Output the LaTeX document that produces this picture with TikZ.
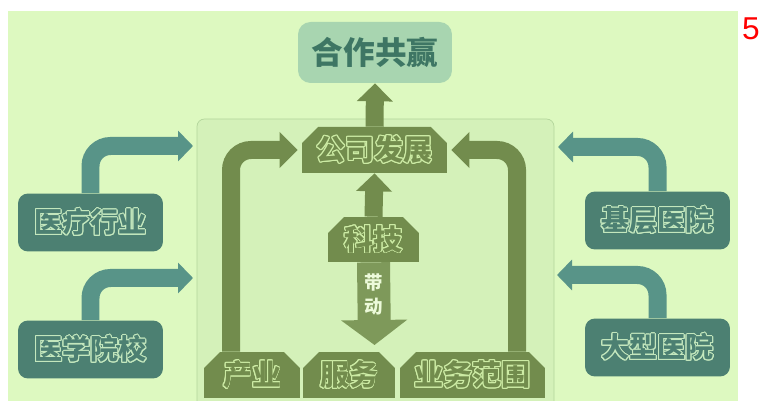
\documentclass[tikz,border=0pt]{standalone}
\usepackage{fontspec}
\newfontfamily\cjk{Noto Sans CJK SC}
\setsansfont{Liberation Sans}
\usepackage{contour}
\contourlength{0.55pt}
\usetikzlibrary{arrows.meta,shapes.misc,calc}

\definecolor{bgfill}{RGB}{221,249,192}
\definecolor{panelfill}{RGB}{212,241,185}
\definecolor{panelline}{RGB}{180,214,156}
\definecolor{topfill}{RGB}{168,213,176}
\definecolor{toptext}{RGB}{62,118,100}
\definecolor{tealfill}{RGB}{76,128,114}
\definecolor{tealline}{RGB}{196,232,190}
\definecolor{tealarr}{RGB}{88,148,136}
\definecolor{olivefill}{RGB}{114,140,77}
\definecolor{oliveline}{RGB}{205,236,165}
\definecolor{pushfill}{RGB}{126,153,90}
\definecolor{pushtext}{RGB}{236,250,218}

\newcommand{\hollow}[2]{\contour{#1}{#2}}

\begin{document}
\begin{tikzpicture}[x=0.02cm,y=-0.02cm,
  tealbox/.style={rounded corners=0.2cm, fill=tealfill, text=tealfill, minimum width=2.9cm, minimum height=1.16cm, font=\cjk\bfseries\fontsize{16}{18}\selectfont},
  oblock/.style={chamfered rectangle, chamfered rectangle corners={north west,north east}, chamfered rectangle xsep=0.16cm, chamfered rectangle ysep=0.16cm, inner sep=0pt, fill=olivefill, text=olivefill, minimum height=0.92cm, font=\cjk\bfseries\fontsize{16.5}{18}\selectfont},
  tealarrow/.style={draw=tealarr, line width=0.36cm, rounded corners=0.4cm, -{Triangle[width=0.6cm,length=0.3cm]}},
  olivearrow/.style={draw=olivefill, line width=0.36cm, rounded corners=0.4cm, -{Triangle[width=0.7cm,length=0.36cm]}},
  pusharrow/.style={draw=pushfill, line width=0.66cm, -{Triangle[width=1.3cm,length=0.5cm]}}]

\useasboundingbox (0,0) rectangle (760,401);
\fill[bgfill] (8,11) rectangle (738,401);
\path[fill=panelfill, draw=panelline, rounded corners=0.15cm] (197,401) -- (197,119) -- (554,119) -- (554,401);

\node[rounded corners=0.25cm, fill=topfill, text=toptext, minimum width=3.08cm, minimum height=1.22cm, font=\cjk\bfseries\fontsize{18}{20}\selectfont] (win) at (375,52.5) {合作共赢};
\node[oblock, minimum width=2.9cm] (dev) at (374.5,150) {\hollow{oliveline}{公司发展}};
\node[oblock, minimum width=1.82cm, minimum height=0.9cm] (tech) at (373.5,239.5) {\hollow{oliveline}{科技}};
\node[oblock, minimum width=1.92cm] (ind) at (252,375) {\hollow{oliveline}{产业}};
\node[oblock, minimum width=1.84cm] (serv) at (349,375) {\hollow{oliveline}{服务}};
\node[oblock, minimum width=2.9cm] (scope) at (472.5,375) {\hollow{oliveline}{业务范围}};

\node[tealbox] (medind) at (90.5,222.5) {\hollow{tealline}{医疗行业}};
\node[tealbox] (medsch) at (90.5,349.5) {\hollow{tealline}{医学院校}};
\node[tealbox] (basehosp) at (657.5,220.5) {\hollow{tealline}{基层医院}};
\node[tealbox] (bighosp) at (657.5,347.5) {\hollow{tealline}{大型医院}};

\coordinate (lin1) at (193,146);
\coordinate (lin2) at (193,278);
\coordinate (rin1) at (558,147);
\coordinate (rin2) at (557,275);
\coordinate (pushtip) at (374.5,345);

\draw[tealarrow] (medind.north) |- (lin1);
\draw[tealarrow] (medsch.north) |- (lin2);
\draw[tealarrow] (basehosp.north) |- (rin1);
\draw[tealarrow] (bighosp.north) |- (rin2);

\draw[olivearrow, shorten >=0.08cm] ($(ind.north)+(-21,0)$) |- (dev.west);
\draw[olivearrow, shorten >=0.08cm] ($(scope.north)+(44.5,0)$) |- (dev.east);
\draw[olivearrow] (tech.north) -- (dev.south);
\draw[olivearrow] (dev.north) -- (win.south);

\draw[pusharrow] (tech.south) -- (pushtip) node[pos=0.39, text=pushtext, align=center, font=\cjk\bfseries\fontsize{10.5}{14}\selectfont] (drive) {带\\动};

\node[text=red, font=\sffamily\fontsize{18}{20}\selectfont] (pagenum) at (751,29) {5};

\end{tikzpicture}
\end{document}
